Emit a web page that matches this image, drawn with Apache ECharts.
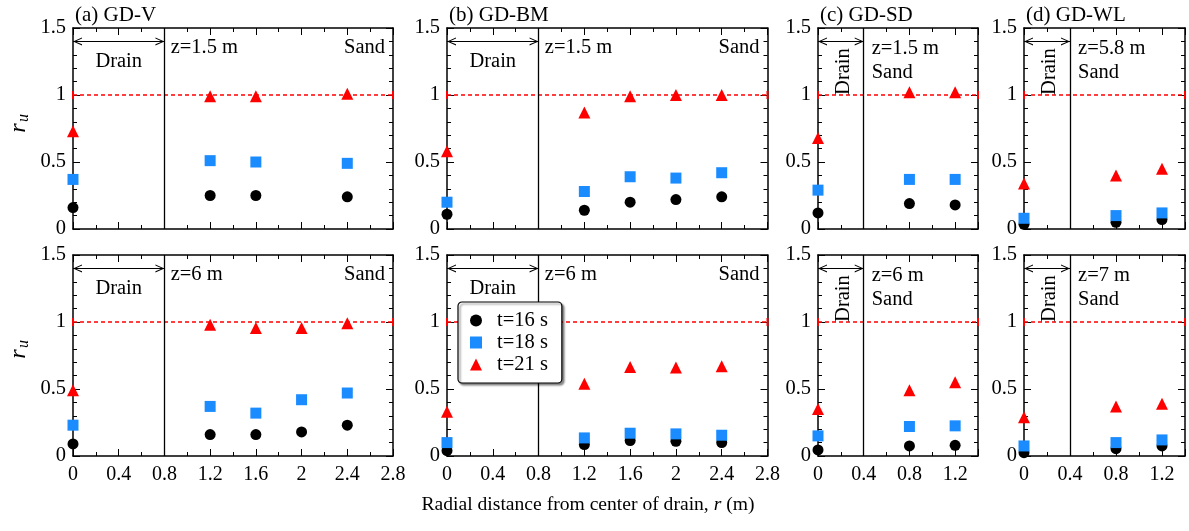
<!DOCTYPE html>
<html><head><meta charset="utf-8">
<script src="https://cdn.jsdelivr.net/npm/echarts@6/dist/echarts.min.js"></script>
<style>html,body{margin:0;padding:0;background:#fff}#c{width:1189px;height:531px}</style>
</head><body><div id="c"></div><script>
const FONT = 'Liberation Serif';

// ---- labels ----
const panelTitles = ['(a) GD-V', '(b) GD-BM', '(c) GD-SD', '(d) GD-WL'];
const seriesNames = ['t=16 s', 't=18 s', 't=21 s'];
const depthLabels = ['z=1.5 m', 'z=1.5 m', 'z=1.5 m', 'z=5.8 m', 'z=6 m', 'z=6 m', 'z=6 m', 'z=7 m'];
const xTicksWide = [0, 0.4, 0.8, 1.2, 1.6, 2, 2.4, 2.8];
const xTicksNarrow = [0, 0.4, 0.8, 1.2];
const yTicks = [0, 0.5, 1, 1.5];
const drainEdge = [0.8, 0.8, 0.4, 0.4];
const xMaxes = [2.8, 2.8, 1.4, 1.4];

// ---- data: top row (a-d) ----
const rA1 = [0, 1.2, 1.6, 2.4];
const a1_t16 = [0.16, 0.25, 0.25, 0.24];
const a1_t18 = [0.37, 0.51, 0.50, 0.49];
const a1_t21 = [0.73, 0.99, 0.99, 1.01];

const rB1 = [0, 1.2, 1.6, 2.0, 2.4];
const b1_t16 = [0.11, 0.14, 0.20, 0.22, 0.24];
const b1_t18 = [0.20, 0.28, 0.39, 0.38, 0.42];
const b1_t21 = [0.58, 0.87, 0.99, 1.00, 1.00];

const rC1 = [0, 0.8, 1.2];
const c1_t16 = [0.12, 0.19, 0.18];
const c1_t18 = [0.29, 0.37, 0.37];
const c1_t21 = [0.68, 1.02, 1.02];

const rD1 = [0, 0.8, 1.2];
const d1_t16 = [0.035, 0.05, 0.07];
const d1_t18 = [0.08, 0.10, 0.12];
const d1_t21 = [0.34, 0.40, 0.45];

// ---- data: bottom row (a-d) ----
const rA2 = [0, 1.2, 1.6, 2.0, 2.4];
const a2_t16 = [0.09, 0.16, 0.16, 0.18, 0.23];
const a2_t18 = [0.23, 0.37, 0.32, 0.42, 0.47];
const a2_t21 = [0.49, 0.98, 0.955, 0.955, 0.99];

const rB2 = [0, 1.2, 1.6, 2.0, 2.4];
const b2_t16 = [0.04, 0.085, 0.115, 0.11, 0.10];
const b2_t18 = [0.10, 0.135, 0.17, 0.165, 0.155];
const b2_t21 = [0.33, 0.54, 0.665, 0.66, 0.67];

const rC2 = [0, 0.8, 1.2];
const c2_t16 = [0.045, 0.075, 0.08];
const c2_t18 = [0.15, 0.22, 0.225];
const c2_t21 = [0.35, 0.49, 0.55];

const rD2 = [0, 0.8, 1.2];
const d2_t16 = [0.025, 0.055, 0.075];
const d2_t18 = [0.075, 0.10, 0.12];
const d2_t21 = [0.29, 0.37, 0.39];

const panels = [
  {r: rA1, v: [a1_t16, a1_t18, a1_t21]},
  {r: rB1, v: [b1_t16, b1_t18, b1_t21]},
  {r: rC1, v: [c1_t16, c1_t18, c1_t21]},
  {r: rD1, v: [d1_t16, d1_t18, d1_t21]},
  {r: rA2, v: [a2_t16, a2_t18, a2_t21]},
  {r: rB2, v: [b2_t16, b2_t18, b2_t21]},
  {r: rC2, v: [c2_t16, c2_t18, c2_t21]},
  {r: rD2, v: [d2_t16, d2_t18, d2_t21]}
];

// ---- layout / style ----
const gridLefts = [73, 447, 818, 1024];
const gridWidths = [320, 320.5, 160, 161];
const gridTops = [28, 255];
const gridHeight = 201;
const colors = ['#000000', '#1A8CFF', '#FF0000'];
const symbols = ['circle', 'rect', 'triangle'];
const symSizes = [11, 11, 12];
const chevron = 'path://M5,0 L10,10 L8.6,10 L5,2.6 L1.4,10 L0,10 Z';

const chart = echarts.init(document.getElementById('c'));
const grids = [], xAxes = [], yAxes = [], series = [];

panels.forEach((p, i) => {
  const row = Math.floor(i / 4), col = i % 4;
  grids.push({left: gridLefts[col], top: gridTops[row], width: gridWidths[col], height: gridHeight});
  const xt = col < 2 ? xTicksWide : xTicksNarrow;
  const tickCommon = {
    splitLine: {show: false},
    axisLine: {show: true, onZero: false, lineStyle: {color: '#000', width: 1.5}},
    axisTick: {show: true, inside: true, length: 7, lineStyle: {color: '#000', width: 1}},
  };
  const xc = Object.assign({}, tickCommon, {
    type: 'value', gridIndex: i, min: xt[0], max: xMaxes[col], interval: xt[1] - xt[0],
    minorTick: {show: true, splitNumber: 2, length: 4, lineStyle: {color: '#000', width: 1}}
  });
  xAxes.push(Object.assign({}, xc, {position: 'bottom',
    axisLabel: {show: row === 1, showMaxLabel: col < 2, showMinLabel: true, margin: 9,
      fontFamily: FONT, fontSize: 20, color: '#000'}}));
  xAxes.push(Object.assign({}, xc, {position: 'top', axisLabel: {show: false}}));
  const yc = Object.assign({}, tickCommon, {
    type: 'value', gridIndex: i, min: yTicks[0], max: yTicks[yTicks.length - 1], interval: yTicks[1] - yTicks[0],
    minorTick: {show: true, splitNumber: 5, length: 4, lineStyle: {color: '#000', width: 1}}
  });
  yAxes.push(Object.assign({}, yc, {position: 'left',
    axisLabel: {show: true, margin: 7, fontFamily: FONT, fontSize: 20.5, color: '#000'}}));
  yAxes.push(Object.assign({}, yc, {position: 'right', axisLabel: {show: false}}));

  const xi = 2 * i, yi = 2 * i;
  const edge = drainEdge[col];
  series.push({
    type: 'line', xAxisIndex: xi, yAxisIndex: yi, data: [], z: 2,
    markLine: {
      silent: true, animation: false, symbol: 'none', label: {show: false},
      emphasis: {disabled: true},
      data: [
        [{coord: [0, 1], symbol: 'rect', symbolSize: [8, 2],
          lineStyle: {color: '#FF0000', type: [4, 3], width: 1.5}},
         {coord: [xMaxes[col], 1], symbol: 'rect', symbolSize: [8, 2]}],
        [{coord: [edge, 0], symbol: 'none', lineStyle: {color: '#000', type: 'solid', width: 1.3}},
         {coord: [edge, 1.5], symbol: 'none'}],
        [{coord: [0, 1.4], symbol: chevron, symbolSize: [8, 9], symbolOffset: [0, 4.5],
          lineStyle: {color: '#000', type: 'solid', width: 1.2}},
         {coord: [edge, 1.4], symbol: chevron, symbolSize: [8, 9], symbolOffset: [0, 4.5]}]
      ]
    }
  });
  p.v.forEach((vals, s) => {
    series.push({
      type: 'scatter', name: seriesNames[s], xAxisIndex: xi, yAxisIndex: yi, z: 5,
      symbol: symbols[s], symbolSize: symSizes[s],
      itemStyle: {color: colors[s], opacity: 1},
      data: p.r.map((x, k) => [x, vals[k]])
    });
  });
});

const option = {
  animation: false,
  backgroundColor: '#fff',
  grid: grids, xAxis: xAxes, yAxis: yAxes, series: series,
  legend: {
    orient: 'vertical', left: 458, top: 302,
    data: seriesNames,
    itemWidth: 12, itemHeight: 12, itemGap: 1,
    padding: [8, 14, 8, 12],
    backgroundColor: '#fff', borderColor: '#000', borderWidth: 1.2, borderRadius: 4,
    shadowColor: 'rgba(0,0,0,0.45)', shadowBlur: 2, shadowOffsetX: 2, shadowOffsetY: 2,
    textStyle: {fontFamily: FONT, fontSize: 20.5, color: '#000', lineHeight: 20.5, padding: [0, 0, 0, 10]},
    z: 10
  }
};
chart.setOption(option);

// ---- annotations placed through the axes' own scales ----
const g = [];
const txt = (x, y, text, extra) => Object.assign({
  type: 'text', x: x, y: y, z: 20,
  style: Object.assign({text: text, fontFamily: FONT, fontSize: 20.5, fill: '#000',
    align: 'left', verticalAlign: 'middle'}, extra || {})
});
panels.forEach((p, i) => {
  const row = Math.floor(i / 4), col = i % 4;
  const conv = (pt) => chart.convertToPixel({xAxisIndex: 2 * i, yAxisIndex: 2 * i}, pt);
  if (row === 0) g.push(txt(gridLefts[col] + 2, 15, panelTitles[col], {fontSize: 21}));
  if (col < 2) {
    let q = conv([0.4, 1.25]); g.push(txt(q[0], q[1], 'Drain', {align: 'center'}));
    q = conv([0.855, 1.355]); g.push(txt(q[0], q[1], depthLabels[i]));
    q = conv([2.73, 1.355]); g.push(txt(q[0], q[1], 'Sand', {align: 'right'}));
  } else {
    let q = conv([0.22, 1.175]);
    const d = txt(q[0], q[1], 'Drain', {align: 'center'}); d.rotation = Math.PI / 2; g.push(d);
    q = conv([0.47, 1.345]); g.push(txt(q[0], q[1], depthLabels[i]));
    q = conv([0.47, 1.17]); g.push(txt(q[0], q[1], 'Sand'));
  }
});
// y-axis names (r_u)
[122, 348].forEach((yy) => {
  g.push({type: 'group', x: 19, y: yy, rotation: Math.PI / 2, z: 20, children: [
    {type: 'text', x: -6, y: 0, style: {text: 'r', fontFamily: FONT, fontStyle: 'italic', fontSize: 24,
      fill: '#000', align: 'center', verticalAlign: 'middle'}},
    {type: 'text', x: 4, y: 5, style: {text: 'u', fontFamily: FONT, fontStyle: 'italic', fontSize: 16,
      fill: '#000', align: 'center', verticalAlign: 'middle'}}
  ]});
});
// x-axis name
g.push({type: 'text', x: 588, y: 505, z: 20, style: {
  text: '{n|Radial distance from center of drain, }{i|r}{n| (m)}',
  align: 'center', verticalAlign: 'middle', fill: '#000',
  rich: {n: {fontFamily: FONT, fontSize: 19.6, fill: '#000'},
         i: {fontFamily: FONT, fontSize: 19.6, fontStyle: 'italic', fill: '#000'}}
}});
chart.setOption({graphic: g});
</script></body></html>
